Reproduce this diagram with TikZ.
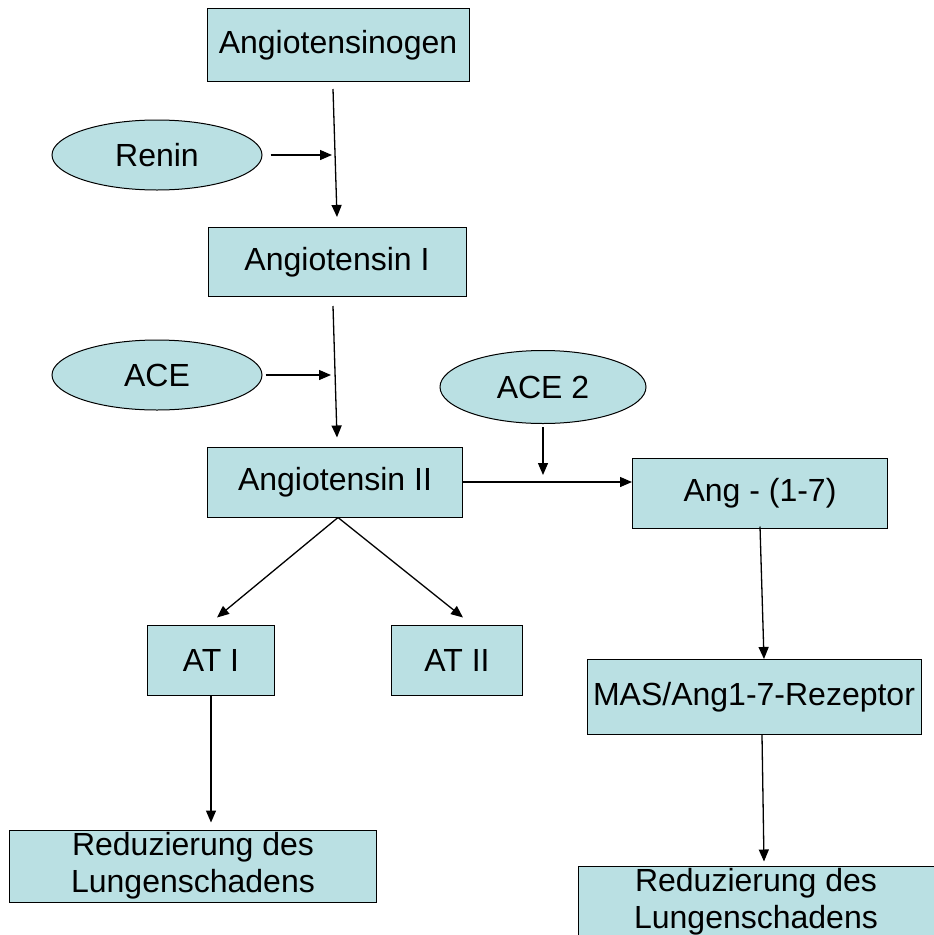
\documentclass[tikz,border=0pt]{standalone}
\usepackage{fontspec}
\setmainfont{Liberation Sans}
\usetikzlibrary{shapes.geometric,arrows.meta}
\definecolor{boxfill}{RGB}{186,224,227}
\tikzset{
  box/.style={draw=black, line width=1pt, fill=boxfill, rectangle, inner sep=0pt, align=center,
    font=\fontsize{32}{37}\selectfont},
  enz/.style={draw=black, line width=1pt, fill=boxfill, ellipse, inner sep=0pt,
    minimum width=210, minimum height=70, font=\fontsize{32}{37}\selectfont},
  arr/.style={line width=1.3pt, -{Triangle[length=12pt,width=10pt]}}
}
\begin{document}
\begin{tikzpicture}[x=1pt,y=-1pt]
\clip (0,0) rectangle (934,935);
\fill[white] (0,0) rectangle (934,935);
\node[box, minimum width=262, minimum height=73] (ango) at (338,45) {Angiotensinogen};
\node[enz] (renin) at (157,155) {Renin};
\node[box, minimum width=258, minimum height=69] (angi) at (337,262) {Angiotensin I};
\node[enz] (ace) at (157,375) {ACE};
\node[box, minimum width=255, minimum height=70] (angii) at (335,482) {Angiotensin II};
\node[enz, minimum width=206, minimum height=73] (ace2) at (543,387) {ACE 2};
\node[box, minimum width=255, minimum height=70] (ang17) at (760,493) {Ang - (1-7)};
\node[box, minimum width=127, minimum height=70] (at1) at (211,660) {AT I};
\node[box, minimum width=131, minimum height=70] (at2) at (457,660) {AT II};
\node[box, minimum width=334, minimum height=75] (mas) at (754,697) {MAS/Ang1-7-Rezeptor};
\node[box, minimum width=367, minimum height=72] (red1) at (193,866) {Reduzierung des\\Lungenschadens};
\node[box, minimum width=356, minimum height=71] (red2) at (756,901.5) {Reduzierung des\\Lungenschadens};

% Angiotensinogen -> Angiotensin I
\draw[arr] ([xshift=-5pt,yshift=-7pt]ango.south) -- ([yshift=10pt]angi.north);
\draw[arr] ([xshift=8pt]renin.east) -- ([xshift=-6pt]renin.east -| ango.south);
% Angiotensin I -> Angiotensin II
\draw[arr] ([xshift=-4pt,yshift=-9pt]angi.south) -- ([xshift=2pt,yshift=9pt]angii.north);
\draw[arr] ([xshift=3pt]ace.east) -- ([xshift=-6pt]ace.east -| angi.south);
% Angiotensin II -> Ang-(1-7)
\coordinate (mid) at (ace2.south |- angii.east);
\draw[arr] (angii.east) -- ([yshift=11pt]ang17.west);
\draw[arr] ([yshift=-3pt]ace2.south) -- ([yshift=7pt]mid);
% Angiotensin II -> AT I / AT II
\draw[arr] ([xshift=3pt]angii.south) -- ([xshift=6pt,yshift=7pt]at1.north);
\draw[arr] ([xshift=3pt]angii.south) -- ([xshift=6pt,yshift=7pt]at2.north);
% AT I -> Reduzierung
\draw[arr] (at1.south) -- ([xshift=18pt,yshift=7pt]red1.north);
% Ang-(1-7) -> MAS -> Reduzierung
\draw[arr] ([yshift=2pt]ang17.south) -- ([xshift=10pt]mas.north);
\draw[arr] ([xshift=8pt]mas.south) -- ([xshift=8pt,yshift=4pt]red2.north);
\end{tikzpicture}
\end{document}
